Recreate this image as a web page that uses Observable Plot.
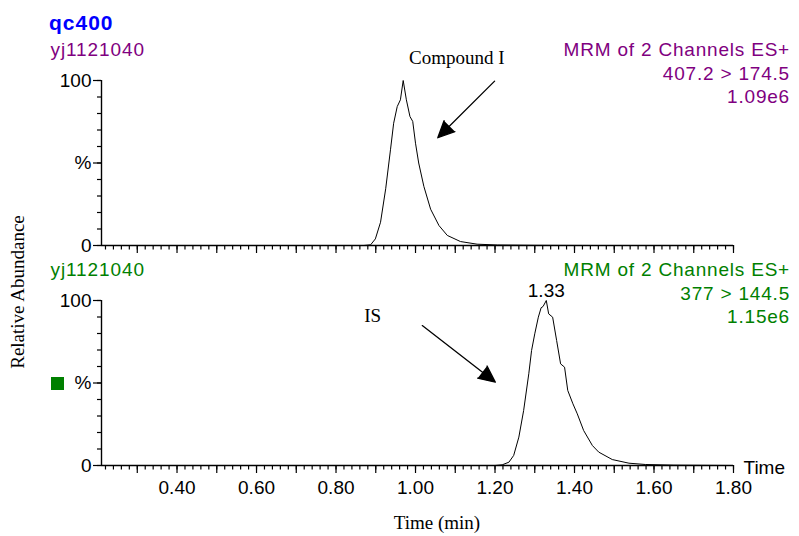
<!DOCTYPE html>
<html>
<head>
<meta charset="utf-8">
<script src="https://cdn.jsdelivr.net/npm/d3@7"></script>
<script src="https://cdn.jsdelivr.net/npm/@observablehq/plot@0.6"></script>
<style>
  html, body { margin: 0; padding: 0; background: #fff; }
  #chart { position: relative; width: 799px; height: 536px; overflow: hidden; }
  #chart > svg { position: absolute; left: 0; overflow: visible; }
</style>
</head>
<body>
<div id="chart"></div>
<script>
// Compound I trace: MRM 407.2 > 174.5 (retention time in min, relative abundance in %)
const compoundTime = [0.21, 0.80, 0.870, 0.887, 0.899, 0.912, 0.925, 0.937, 0.945, 0.954, 0.962, 0.969,
  0.977, 0.986, 0.993, 1.000, 1.008, 1.021, 1.038, 1.059, 1.080, 1.113, 1.155, 1.206, 1.30, 1.45, 1.80];
const compoundAbundance = [0, 0, 0, 0.4, 4.0, 14.1, 34.4, 58.0, 74.1, 84.2, 88.3, 100,
  88.3, 78.2, 75.2, 62.0, 50.0, 35.8, 22.0, 12.1, 6.1, 2.4, 0.8, 0.3, 0.1, 0, 0];

// Internal standard trace: MRM 377 > 144.5
const isTime = [0.21, 0.80, 1.20, 1.218, 1.235, 1.247, 1.260, 1.272, 1.285, 1.292, 1.300, 1.309, 1.316,
  1.321, 1.329, 1.335, 1.345, 1.355, 1.365, 1.375, 1.383, 1.396, 1.407, 1.423, 1.445, 1.461, 1.495,
  1.537, 1.579, 1.65, 1.80];
const isAbundance = [0, 0, 0, 0.4, 2.0, 6.1, 17.2, 33.3, 55.6, 69.7, 79.8, 89.9, 95.6,
  96.4, 100, 91.9, 89.9, 75.8, 61.6, 59.6, 45.5, 37.4, 31.3, 21.2, 12.1, 8.1, 3.6,
  1.4, 0.6, 0.2, 0];

// Axis ticks
const xDomain = [0.21, 1.80];
const xLabelTicks = [0.40, 0.60, 0.80, 1.00, 1.20, 1.40, 1.60, 1.80];
const xMediumTicks = d3.range(3, 19).map(i => i / 10);
const xMinorTicks = d3.range(11, 91).map(i => i / 50);
const yLabelTicks = [0, 50, 100];
const yMinorTicks = d3.range(0, 101, 10);

// Trace headers
const sampleName = "qc400";
const fileName = "yj1121040";
const compoundHeader = ["MRM of 2 Channels ES+", "407.2 > 174.5", "1.09e6"];
const isHeader = ["MRM of 2 Channels ES+", "377 > 144.5", "1.15e6"];

// Annotations (data coordinates)
const compoundNote = {x: 1.104, y: 110.3, text: "Compound I"};
const compoundArrow = {x1: 1.199, y1: 99.6, x2: 1.056, y2: 65.3};
const isNote = {x: 0.892, y: 86.8, text: "IS"};
const isArrow = {x1: 1.017, y1: 84.8, x2: 1.201, y2: 50.5};

const SANS = "Liberation Sans, Arial, sans-serif";
const SERIF = "Liberation Serif, Times New Roman, serif";

function chromatogram({time, abundance, height, marginTop, marginBottom, labels, note, arrow, peakLabel}) {
  const data = time.map((t, i) => ({t, v: abundance[i]}));
  const marks = [
    Plot.axisX({ticks: xMinorTicks, tickSize: 4.5, tickFormat: () => "", label: null, strokeWidth: 1.2}),
    Plot.axisX({ticks: xMediumTicks, tickSize: 8, tickFormat: () => "", label: null, strokeWidth: 1.2}),
    Plot.axisY({ticks: yMinorTicks, tickSize: 4, tickFormat: () => "", label: null, strokeWidth: 1.2}),
    Plot.axisY({ticks: yLabelTicks, tickSize: 8, tickPadding: 2, label: null, strokeWidth: 1.2,
      tickFormat: d => d === 50 ? "%" : String(d)}),
    Plot.ruleY([0], {stroke: "black", strokeWidth: 1.4}),
    Plot.ruleX([xDomain[0]], {stroke: "black", strokeWidth: 1.4}),
    Plot.line(data, {x: "t", y: "v", stroke: "black", strokeWidth: 1}),
    Plot.arrow([arrow], {x1: "x1", y1: "y1", x2: "x2", y2: "y2", stroke: "black", fill: "black",
      strokeWidth: 1.3, headLength: 21, headAngle: 50}),
    Plot.text([note], {x: "x", y: "y", text: "text", fontFamily: SERIF, fontSize: 19, lineAnchor: "bottom", fill: "black"})
  ];
  if (labels) {
    marks.push(
      Plot.axisX({ticks: xLabelTicks, tickSize: 0, tickPadding: 14.5, label: null, tickFormat: d3.format(".2f")}),
      Plot.text(["Time"], {text: d => d, frameAnchor: "bottom-right", textAnchor: "start", lineAnchor: "bottom",
        dx: 10, dy: 8, fill: "black"})
    );
  }
  if (peakLabel) {
    const peak = d3.greatest(data, d => d.v);
    marks.push(Plot.text([peak], {x: "t", y: "v", text: d => d3.format(".2f")(d.t),
      lineAnchor: "bottom", dy: -4, fill: "black"}));
  }
  return Plot.plot({
    width: 799,
    height,
    marginTop,
    marginBottom,
    marginLeft: 101,
    marginRight: 66,
    x: {domain: xDomain, label: null},
    y: {domain: [0, 100], label: null},
    style: {fontFamily: SANS, fontSize: "19px", color: "black", background: "transparent", overflow: "visible"},
    marks
  });
}

const chart = document.getElementById("chart");

const upperPanel = chromatogram({
  time: compoundTime, abundance: compoundAbundance,
  height: 270, marginTop: 80, marginBottom: 25,
  labels: false, note: compoundNote, arrow: compoundArrow, peakLabel: false
});
upperPanel.style.top = "0px";
chart.appendChild(upperPanel);

const lowerPanel = chromatogram({
  time: isTime, abundance: isAbundance,
  height: 266, marginTop: 30, marginBottom: 71,
  labels: true, note: isNote, arrow: isArrow, peakLabel: true
});
lowerPanel.style.top = "270px";
chart.appendChild(lowerPanel);

// Headers, legend swatch and axis titles
const overlay = d3.select(chart).append("svg")
  .attr("width", 799).attr("height", 536)
  .style("top", "0px")
  .style("pointer-events", "none");

overlay.append("text").attr("x", 49).attr("y", 29.5)
  .attr("font-family", SANS).attr("font-size", 21).attr("font-weight", "bold")
  .attr("letter-spacing", 1).attr("fill", "#0000ff").text(sampleName);

function header(color, baselines, lines) {
  overlay.append("text").attr("x", 50.5).attr("y", baselines[0])
    .attr("font-family", SANS).attr("font-size", 19).attr("letter-spacing", 0.9)
    .attr("fill", color).text(fileName);
  lines.forEach((line, i) => {
    overlay.append("text").attr("x", 790).attr("y", baselines[i])
      .attr("text-anchor", "end")
      .attr("font-family", SANS).attr("font-size", 19).attr("letter-spacing", 0.8)
      .attr("fill", color).text(line);
  });
}
header("#800080", [56, 80, 103], compoundHeader);
header("#008000", [276, 299.5, 323], isHeader);

overlay.append("rect").attr("x", 51).attr("y", 377).attr("width", 13).attr("height", 13).attr("fill", "#008000");

overlay.append("text").attr("transform", "translate(24,292) rotate(-90)")
  .attr("text-anchor", "middle").attr("font-family", SERIF).attr("font-size", 19)
  .attr("fill", "black").text("Relative Abundance");

overlay.append("text").attr("x", 437).attr("y", 529)
  .attr("text-anchor", "middle").attr("font-family", SERIF).attr("font-size", 19)
  .attr("fill", "black").text("Time (min)");
</script>
</body>
</html>
